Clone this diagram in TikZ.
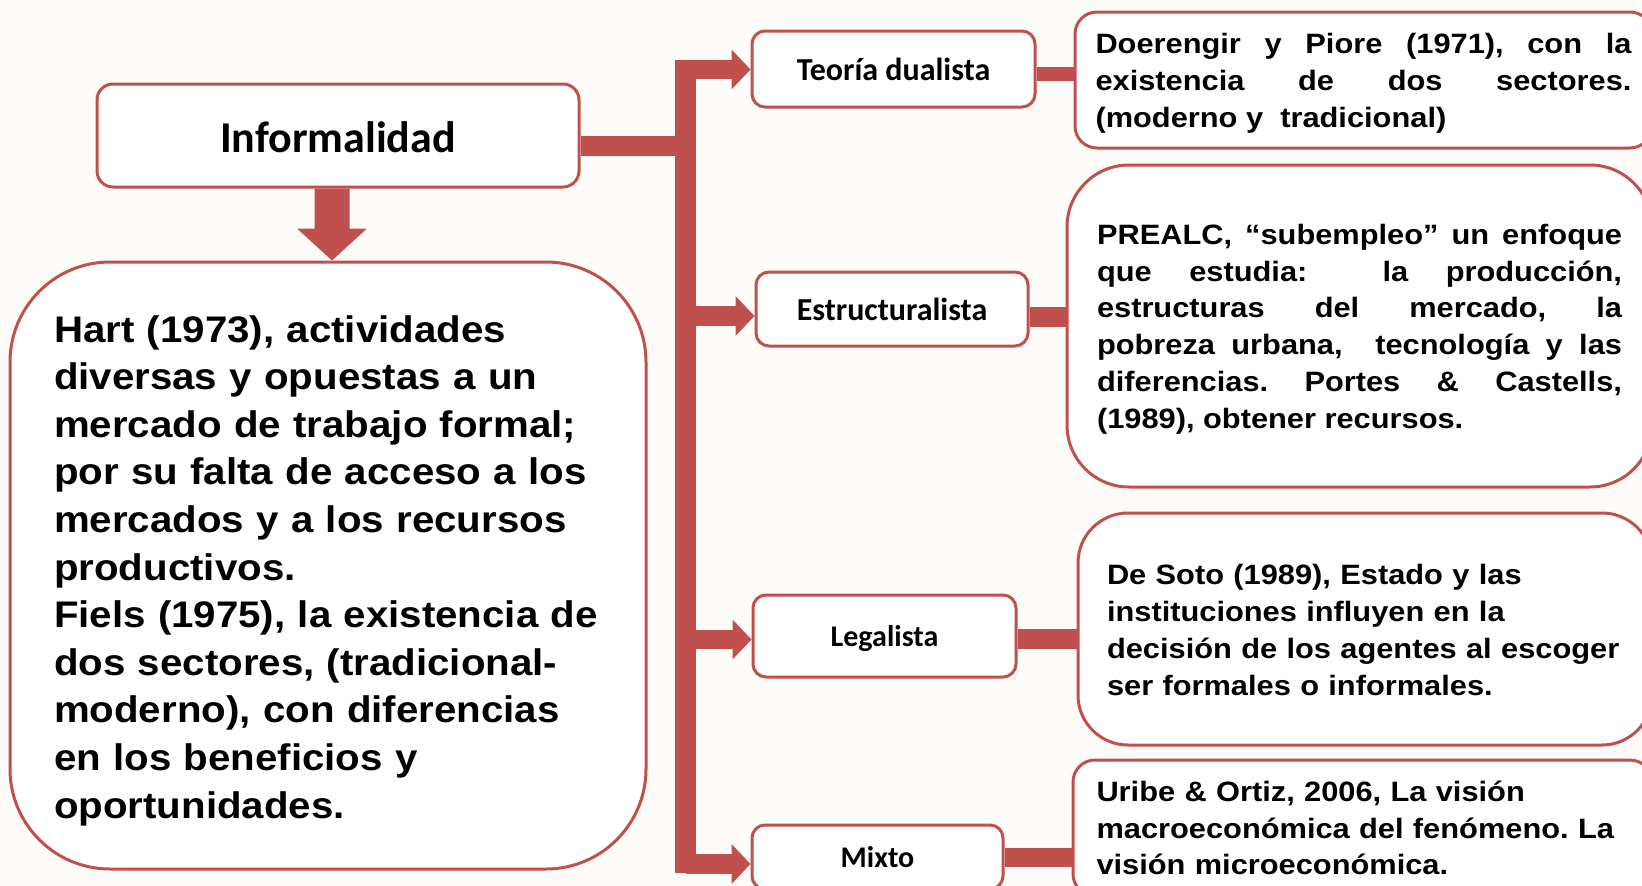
\documentclass[tikz,border=0pt]{standalone}
\usepackage{fontspec}
\setmainfont{Liberation Sans}
\newfontfamily\labfont{Carlito}
\newfontfamily\txtfont[FakeStretch=1.1]{Liberation Sans}
\newfontfamily\bigfont[FakeStretch=1.088]{Liberation Sans}
\usetikzlibrary{calc}
\definecolor{accred}{HTML}{C0504D}
\definecolor{bgcol}{HTML}{FDFCF9}
\frenchspacing
\begin{document}
\begin{tikzpicture}[x=1pt,y=-1pt,
  box/.style={draw=accred, line width=3pt, fill=white, inner sep=0pt},
  lab/.style={box, font=\labfont\bfseries\fontsize{32}{38}\selectfont, rounded corners=13pt},
  desc/.style={inner sep=0pt, font=\txtfont\bfseries\fontsize{28}{36.8}\selectfont},
  conn/.style={accred, line width=#1, line cap=butt},
  ]
\useasboundingbox (0,0) rectangle (1642,886);
\fill[bgcol] (0,0) rectangle (1642,886);
\clip (0,0) rectangle (1642,886);

% main nodes
\node[lab, font=\labfont\bfseries\fontsize{44}{50}\selectfont, minimum width=482pt, minimum height=103pt, rounded corners=16pt, text depth=0pt, text height=0pt] (inf) at (338,135.5) {};
\node[inner sep=0pt, font=\labfont\bfseries\fontsize{44}{50}\selectfont, yshift=-2pt] (inftxt) at (inf.center) {Informalidad};
\node[box, minimum width=636pt, minimum height=607pt, rounded corners=100pt] (hart) at (328,565.5) {};
\node[desc, font=\bigfont\bfseries\fontsize{37}{47.6}\selectfont, text width=548pt, align=left, yshift=-5pt] (harttxt) at (hart.center) {Hart (1973), actividades\\
diversas y opuestas a un\\
mercado de trabajo formal;\\
por su falta de acceso a los\\
mercados y a los recursos\\
productivos.\\
Fiels (1975), la existencia de\\
dos sectores, (tradicional-\\
moderno), con diferencias\\
en los beneficios y\\
oportunidades.};

% category nodes
\node[lab, minimum width=283pt, minimum height=76pt] (teo) at (893.5,69) {Teoría dualista};
\node[lab, minimum width=272pt, minimum height=74pt] (est) at (892,309) {Estructuralista};
\node[lab, font=\labfont\bfseries\fontsize{30}{36}\selectfont, minimum width=263pt, minimum height=82pt] (leg) at (884.5,636) {};
\node[inner sep=0pt, font=\labfont\bfseries\fontsize{30}{36}\selectfont, yshift=-3pt] (legtxt) at (leg.center) {Legalista};
\node[lab, font=\labfont\bfseries\fontsize{30}{36}\selectfont, minimum width=251pt, minimum height=64pt] (mix) at (877.5,857) {Mixto};

% description boxes
\node[box, minimum width=577pt, minimum height=136pt, rounded corners=22pt] (doer) at (1363.5,80) {};
\node[desc, text width=536pt, align=justify, yshift=-3pt] (doertxt) at (doer.center) {Doerengir y Piore (1971), con la\linebreak existencia de dos sectores.\linebreak (moderno y\ \ tradicional)};
\node[box, minimum width=585pt, minimum height=322pt, rounded corners=62pt] (prealc) at (1359.5,326) {};
\node[desc, text width=525pt, align=justify, yshift=-3pt] (prealctxt) at (prealc.center) {PREALC, “subempleo” un enfoque\linebreak que estudia:\ \ la producción,\linebreak estructuras del mercado, la\linebreak pobreza urbana,\ \ tecnología y las\linebreak diferencias. Portes \& Castells,\linebreak (1989), obtener recursos.};
\node[box, minimum width=574pt, minimum height=232pt, rounded corners=50pt] (soto) at (1365,629) {};
\node[desc, text width=516pt, align=left, yshift=-1pt] (sototxt) at (soto.center) {De Soto (1989), Estado y las\\
instituciones influyen en la\\
decisión de los agentes al escoger\\
ser formales o informales.};
\node[box, minimum width=579pt, minimum height=136pt, rounded corners=22pt] (uribe) at (1362.5,828) {};
\node[desc, text width=532pt, align=left] (uribetxt) at (uribe.center) {Uribe \& Ortiz, 2006, La visión\\
macroeconómica del fenómeno. La\\
visión microeconómica.};

% down arrow
\coordinate (dtop) at ($(inf.south)+(-6,0)$);
\coordinate (dtip) at (hart.north -| dtop);
\fill[accred] ($(dtop)+(-17.5,0)$) -- ($(dtop)+(17.5,0)$) -- ($(dtop)+(17.5,40)$) -- ($(dtop)+(35,40)$) -- (dtip) -- ($(dtop)+(-35,40)$) -- ($(dtop)+(-17.5,40)$) -- cycle;

% trunk
\coordinate (bartop) at (685.5,60);
\coordinate (barbot) at (685.5,873);
\draw[conn=21pt] (bartop) -- (barbot);
\coordinate (infout) at ($(inf.east)+(0,10)$);
\draw[conn=20pt] (infout) -- (infout -| bartop);

% arms with arrow heads
\foreach \t/\d in {teo/0.5, est/7, leg/3.5, mix/7}{
  \coordinate (tin) at ($(\t.west)+(0,\d)$);
  \draw[conn=19.5pt] (tin -| bartop) -- ($(tin)+(-18,0)$);
  \fill[accred] (tin) -- ($(tin)+(-19,-20)$) -- ($(tin)+(-19,20)$) -- cycle;
}

% right connectors
\coordinate (c1) at ($(teo.east)+(0,5)$);
\draw[conn=14pt] (c1) -- (c1 -| doer.west);
\coordinate (c2) at ($(est.east)+(0,8)$);
\draw[conn=20pt] (c2) -- (c2 -| prealc.west);
\coordinate (c3) at ($(leg.east)+(0,3)$);
\draw[conn=20pt] (c3) -- (c3 -| soto.west);
\coordinate (c4) at ($(mix.east)+(0,0)$);
\draw[conn=19pt] (c4) -- (c4 -| uribe.west);
\end{tikzpicture}
\end{document}
